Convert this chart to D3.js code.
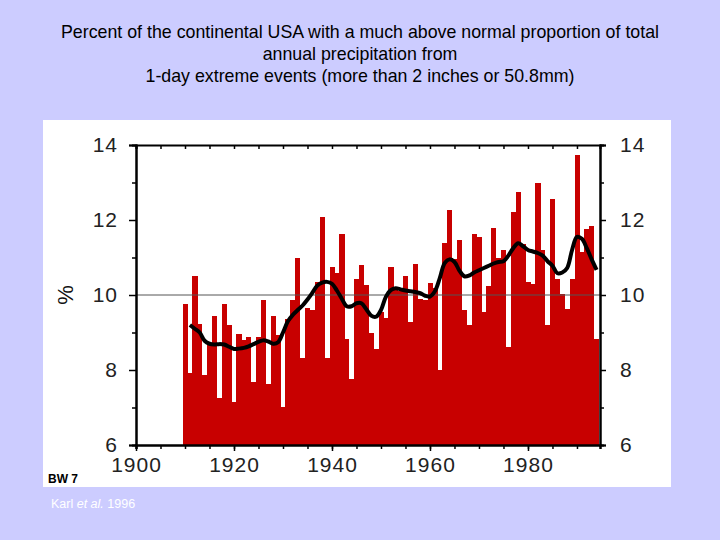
<!DOCTYPE html>
<html>
<head>
<meta charset="utf-8">
<script src="https://cdn.jsdelivr.net/npm/d3@7"></script>
<style>
  body { margin: 0; background: #ccccff; }
  svg { display: block; }
</style>
</head>
<body>
<svg id="chart" width="720" height="540"></svg>
<script>
// yearly values, % of area
const years = d3.range(1910, 1995);
const percent = [
  9.76, 7.91, 10.52, 9.23, 7.87, 8.70, 9.45, 7.26, 9.76, 9.20,
  7.14, 8.95, 8.80, 8.89, 7.67, 8.89, 9.88, 7.64, 9.45, 8.93,
  7.02, 9.36, 9.87, 11.00, 8.31, 9.66, 9.60, 10.34, 12.09, 8.31,
  10.76, 10.58, 11.64, 8.84, 7.75, 10.43, 10.80, 10.26, 8.98, 8.55,
  9.55, 9.40, 10.76, 10.20, 10.12, 10.51, 9.29, 10.84, 9.90, 9.86,
  10.33, 10.20, 8.01, 11.38, 12.28, 10.95, 11.48, 9.60, 9.20, 11.63,
  11.54, 9.56, 10.24, 11.80, 11.00, 11.20, 8.62, 12.22, 12.76, 11.35,
  10.36, 10.30, 12.98, 11.20, 9.20, 12.55, 10.44, 10.04, 9.64, 10.44,
  13.73, 11.14, 11.75, 11.84, 8.84
];

// smoothed curve
const smoothYears = d3.range(1911, 1995);
const smoothed = [
  9.20, 9.10, 9.00, 8.78, 8.70, 8.68, 8.69, 8.68, 8.62,
  8.56, 8.57, 8.59, 8.63, 8.69, 8.75, 8.79, 8.76, 8.70, 8.74,
  9.00, 9.30, 9.47, 9.60, 9.72, 9.88, 10.06, 10.25, 10.33, 10.35,
  10.30, 10.12, 9.90, 9.70, 9.70, 9.78, 9.78, 9.62, 9.45, 9.42,
  9.60, 9.95, 10.13, 10.18, 10.15, 10.12, 10.10, 10.08, 10.05, 9.98,
  9.96, 10.10, 10.45, 10.85, 10.95, 10.88, 10.65, 10.50, 10.52, 10.60,
  10.66, 10.72, 10.78, 10.84, 10.88, 10.90, 11.05, 11.25, 11.38, 11.30,
  11.20, 11.16, 11.12, 11.05, 10.90, 10.78, 10.58, 10.60, 10.72, 11.20,
  11.55, 11.50, 11.25, 10.95, 10.67
];

const yTicks = [6, 8, 10, 12, 14];
const yMinor = [7, 9, 11, 13];
const xTicks = [1900, 1920, 1940, 1960, 1980];
const xMinor = d3.range(1900, 1995, 5);

const titleLines = [
  "Percent of the continental USA with a much above normal proportion of total",
  "annual precipitation from",
  "1-day extreme events (more than 2 inches or 50.8mm)"
];

const svg = d3.select("#chart");
const font = "'Liberation Sans', Arial, sans-serif";

// title
svg.append("g")
  .selectAll("text")
  .data(titleLines)
  .join("text")
  .attr("x", 360)
  .attr("y", (d, i) => 38 + i * 22)
  .attr("text-anchor", "middle")
  .style("font", `17.8px ${font}`)
  .attr("fill", "#000")
  .text(d => d);

// white figure panel
svg.append("rect")
  .attr("x", 43).attr("y", 120)
  .attr("width", 628).attr("height", 367)
  .attr("fill", "#fff");

const x = d3.scaleLinear().domain([1900, 1994.7]).range([136, 600]);
const y = d3.scaleLinear().domain([6, 14]).range([445, 145]);

// bars
svg.append("g")
  .selectAll("rect")
  .data(years)
  .join("rect")
  .attr("x", d => x(d - 0.5))
  .attr("width", d => x(d + 0.5) - x(d - 0.5) + 0.3)
  .attr("y", (d, i) => y(percent[i]))
  .attr("height", (d, i) => y(6) - y(percent[i]))
  .attr("fill", "#c80000")
  .attr("shape-rendering", "crispEdges");

// reference line at 10 %
svg.append("line")
  .attr("x1", x(1900)).attr("x2", x(1994.7))
  .attr("y1", y(10)).attr("y2", y(10))
  .attr("stroke", "#555")
  .attr("stroke-width", 1);

// smoothed curve
const line = d3.line()
  .x((d, i) => x(smoothYears[i]))
  .y(d => y(d))
  .curve(d3.curveCatmullRom.alpha(0.5));

svg.append("path")
  .datum(smoothed)
  .attr("fill", "none")
  .attr("stroke", "#000")
  .attr("stroke-width", 4)
  .attr("stroke-linejoin", "round")
  .attr("d", line);

function styleAxis(g, size) {
  g.select(".domain").attr("stroke", "#000").attr("stroke-width", 2);
  g.selectAll(".tick line").attr("stroke", "#000").attr("stroke-width", 1.5);
  g.selectAll(".tick text")
    .attr("fill", "#222")
    .style("font", `${size}px ${font}`);
}

// left axis
svg.append("g")
  .attr("transform", `translate(${x(1900)},0)`)
  .call(d3.axisLeft(y).tickValues(yMinor).tickSize(4).tickFormat(""))
  .call(g => styleAxis(g, 21));
svg.append("g")
  .attr("transform", `translate(${x(1900)},0)`)
  .call(d3.axisLeft(y).tickValues(yTicks).tickSize(7).tickPadding(11).tickFormat(d3.format("d")))
  .call(g => styleAxis(g, 21))
  .call(g => g.selectAll(".tick text").attr("letter-spacing", "1px"));

// right axis
svg.append("g")
  .attr("transform", `translate(${x(1994.7)},0)`)
  .call(d3.axisRight(y).tickValues(yMinor).tickSize(4).tickFormat(""))
  .call(g => styleAxis(g, 21));
svg.append("g")
  .attr("transform", `translate(${x(1994.7)},0)`)
  .call(d3.axisRight(y).tickValues(yTicks).tickSize(6).tickPadding(14).tickFormat(d3.format("d")))
  .call(g => styleAxis(g, 21))
  .call(g => g.selectAll(".tick text").attr("letter-spacing", "1px"));

// top axis, ticks pointing inward
svg.append("g")
  .attr("transform", `translate(0,${y(14)})`)
  .call(d3.axisBottom(x).tickValues(xMinor).tickSize(4).tickFormat(""))
  .call(g => styleAxis(g, 21));

// bottom axis
svg.append("g")
  .attr("transform", `translate(0,${y(6)})`)
  .call(d3.axisBottom(x).tickValues(xMinor).tickSize(4).tickFormat(""))
  .call(g => styleAxis(g, 21))
  .call(g => g.select(".domain").attr("stroke-width", 2.5));
svg.append("g")
  .attr("transform", `translate(0,${y(6)})`)
  .call(d3.axisBottom(x).tickValues(xTicks).tickSize(6).tickPadding(6).tickFormat(d3.format("d")))
  .call(g => styleAxis(g, 21))
  .call(g => g.select(".domain").remove())
  .call(g => g.selectAll(".tick text").attr("letter-spacing", "1px"));

// y label
svg.append("text")
  .attr("transform", "translate(73,295) rotate(-90)")
  .attr("text-anchor", "middle")
  .style("font", `22px ${font}`)
  .attr("fill", "#111")
  .text("%");

// panel notes
svg.append("text")
  .attr("x", 48).attr("y", 483)
  .style("font", `bold 12px ${font}`)
  .attr("fill", "#000")
  .text("BW 7");

const cite = svg.append("text")
  .attr("x", 51).attr("y", 508)
  .style("font", `12.5px ${font}`)
  .attr("fill", "#fff");
cite.append("tspan").text("Karl ");
cite.append("tspan").style("font-style", "italic").text("et al.");
cite.append("tspan").text(" 1996");
</script>
</body>
</html>
